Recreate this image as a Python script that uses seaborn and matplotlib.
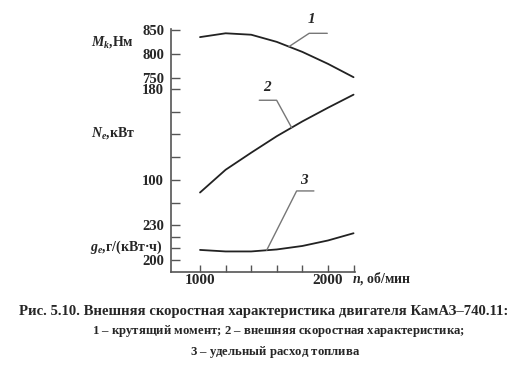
import numpy as np
import pandas as pd
import matplotlib
matplotlib.use('Agg')
import matplotlib.pyplot as plt
import seaborn as sns

# engine speed, rpm
rpm = [1000, 1200, 1400, 1600, 1800, 2000, 2200]
# 1 - torque, N*m
torque = [835, 843, 840, 825, 804, 779, 751]
# 2 - power, kW
power = [89, 109, 124, 138.5, 151.5, 163.5, 175]
# 3 - specific fuel consumption, g/(kW*h)
fuel = [208.6, 207.3, 207.3, 209, 212, 216.7, 222.9]

df = pd.DataFrame({'n': rpm, 'M': torque, 'N': power, 'g': fuel})

sns.set_style('white')
plt.rcParams['font.family'] = ['Liberation Serif', 'DejaVu Serif']
plt.rcParams['font.weight'] = 'bold'
plt.rcParams['mathtext.fontset'] = 'custom'
plt.rcParams['mathtext.it'] = 'Liberation Serif:italic:bold'
plt.rcParams['mathtext.rm'] = 'Liberation Serif:bold'
plt.rcParams['mathtext.bf'] = 'Liberation Serif:bold'

fig = plt.figure(figsize=(5.2, 3.67), dpi=100)
ax = fig.add_axes([0.3288, 0.2602, 0.3538, 0.6608])
axN = ax.twinx()
axG = ax.twinx()

line_kw = dict(color='#222222', lw=1.3)
sns.lineplot(data=df, x='n', y='M', ax=ax, **line_kw)
sns.lineplot(data=df, x='n', y='N', ax=axN, **line_kw)
sns.lineplot(data=df, x='n', y='g', ax=axG, **line_kw)

ax.set_xlim(773, 2211)
ax.set_ylim(344, 852)
axN.set_ylim(19.6, 232.7)
axG.set_ylim(190.1, 398)

for a in (ax, axN, axG):
    a.set_xlabel('')
    a.set_ylabel('')
    a.yaxis.tick_left()
    for s in a.spines.values():
        s.set_visible(False)
    a.tick_params(axis='y', direction='in', length=6.5, width=1, color='#555555',
                  pad=5, labelsize=10.5)

ax.spines['left'].set_visible(True)
ax.spines['bottom'].set_visible(True)
for s in ('left', 'bottom'):
    ax.spines[s].set_color('#555555')
    ax.spines[s].set_linewidth(1.2)

ax.set_yticks([750, 800, 850], ['750', '800', '850'])
axN.set_yticks([80, 100, 120, 140, 160, 180], ['', '100', '', '', '', '180'])
axG.set_yticks([200, 210, 220, 230], ['200', '', '', '230'])

ax.set_xticks(rpm, ['1000', '', '', '', '', '2000', ''])
ax.tick_params(axis='x', direction='in', length=5, width=1, color='#555555',
               pad=2, labelsize=11, bottom=True)


def leader(a, x0, ys, dx, dy, ang, label, lx, ly):
    y0 = np.interp(x0, rpm, ys)
    a.annotate('', xy=(x0, y0), xytext=(dx, dy), textcoords='offset points',
               arrowprops=dict(arrowstyle='-', color='#777777', lw=1,
                               shrinkA=0, shrinkB=0,
                               connectionstyle=f'angle,angleA=0,angleB={ang},rad=0'))
    a.annotate(label, xy=(x0, y0), xytext=(lx, ly), textcoords='offset points',
               ha='center', va='center', fontsize=11, fontstyle='italic',
               fontweight='bold')


leader(ax, 1695, torque, 27.6, 9.6, 33.4, '1', 16.3, 19.7)
leader(axN, 1716, power, -23.3, 19.7, 118.7, '2', -18, 28.8)
leader(axG, 1521, fuel, 34, 42.7, 63.2, '3', 27, 50.4)

# axis names
fig.text(134 / 520, 1 - 42 / 367, r'$M_k$,Нм', ha='right', va='center', fontsize=10)
fig.text(135 / 520, 1 - 133 / 367, r'$N_e$,кВт', ha='right', va='center', fontsize=10)
fig.text(163 / 520, 1 - 247 / 367, r'$g_e$,г/(кВт·ч)', ha='right', va='center', fontsize=10)
fig.text(352 / 520, 1 - 279 / 367, r'$n$, об/мин', ha='left', va='center', fontsize=10)

# caption
fig.text(263.5 / 520, 1 - 311 / 367,
         'Рис. 5.10. Внешняя скоростная характеристика двигателя КамАЗ–740.11:',
         ha='center', va='center', fontsize=10.6)
fig.text(279 / 520, 1 - 331 / 367,
         r'$\mathit{1}$ – крутящий момент; $\mathit{2}$ – внешняя скоростная характеристика;',
         ha='center', va='center', fontsize=9.2)
fig.text(275 / 520, 1 - 352 / 367,
         r'$\mathit{3}$ – удельный расход топлива',
         ha='center', va='center', fontsize=9.2)

fig.savefig('out.png', dpi=100)
